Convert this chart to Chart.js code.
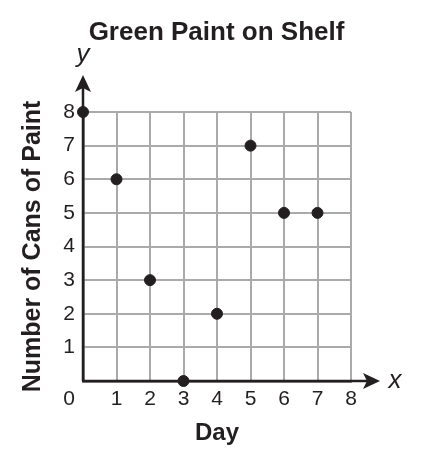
<!DOCTYPE html>
<html>
<head>
<meta charset="utf-8">
<script src="https://cdn.jsdelivr.net/npm/chart.js@4"></script>
<style>
  html, body { margin: 0; padding: 0; background: #fff; }
  #wrap { width: 425px; height: 466px; }
</style>
</head>
<body>
<div id="wrap"><canvas id="c" width="425" height="466"></canvas></div>
<script>
const chartTitle = 'Green Paint on Shelf';
const xTitle = 'Day';
const yTitle = 'Number of Cans of Paint';
const days = [0, 1, 2, 3, 4, 5, 6, 7];
const cans = [8, 6, 3, 0, 2, 7, 5, 5];
const xTickLabels = ['1', '2', '3', '4', '5', '6', '7', '8'];
const yTickLabels = ['1', '2', '3', '4', '5', '6', '7', '8'];
const originLabel = '0';

const INK = '#231f20';
const GRID = '#aaaaaa';
const FONT = "'Liberation Sans', Arial, sans-serif";

function arrowHead(ctx, tipX, tipY, dir) {
  const len = 17, half = 8, notch = 4;
  ctx.beginPath();
  if (dir === 'up') {
    ctx.moveTo(tipX, tipY);
    ctx.lineTo(tipX + half, tipY + len);
    ctx.lineTo(tipX, tipY + len - notch);
    ctx.lineTo(tipX - half, tipY + len);
  } else {
    ctx.moveTo(tipX, tipY);
    ctx.lineTo(tipX - len, tipY - half);
    ctx.lineTo(tipX - len + notch, tipY);
    ctx.lineTo(tipX - len, tipY + half);
  }
  ctx.closePath();
  ctx.fill();
}

const decor = {
  id: 'decor',
  beforeDatasetsDraw(chart) {
    const ctx = chart.ctx;
    const xs = chart.scales.x, ys = chart.scales.y;
    const x0 = xs.getPixelForValue(0), y0 = ys.getPixelForValue(0);
    const xEnd = xs.getPixelForValue(8), yEnd = ys.getPixelForValue(8);
    ctx.save();
    ctx.strokeStyle = INK;
    ctx.fillStyle = INK;
    ctx.lineWidth = 2.5;
    ctx.beginPath();
    ctx.moveTo(x0, y0);
    ctx.lineTo(x0, yEnd - 28);
    ctx.moveTo(x0, y0);
    ctx.lineTo(xEnd + 20, y0);
    ctx.stroke();
    arrowHead(ctx, x0, yEnd - 37, 'up');
    arrowHead(ctx, xEnd + 29, y0, 'right');
    ctx.font = "italic 26px " + FONT;
    ctx.textAlign = 'center';
    ctx.textBaseline = 'alphabetic';
    ctx.fillText('y', x0, yEnd - 50);
    ctx.fillText('x', xEnd + 44, y0 + 7);
    ctx.font = "21px " + FONT;
    ctx.textBaseline = 'middle';
    ctx.fillText(originLabel, x0 - 14, y0 + 18);
    ctx.restore();
  }
};

new Chart(document.getElementById('c'), {
  type: 'scatter',
  data: {
    datasets: [{
      data: days.map((d, i) => ({ x: d, y: cans[i] })),
      backgroundColor: INK,
      borderColor: INK,
      pointRadius: 5.5,
      pointHoverRadius: 5.5,
      clip: false
    }]
  },
  plugins: [decor],
  options: {
    responsive: false,
    animation: false,
    devicePixelRatio: 1,
    layout: { padding: { left: 8, right: 0, top: 0, bottom: 0 } },
    plugins: {
      legend: { display: false },
      tooltip: { enabled: false },
      title: {
        display: true,
        text: chartTitle,
        color: INK,
        font: { family: FONT, size: 26, weight: 'bold' },
        padding: { top: 17, bottom: 63.8 }
      }
    },
    scales: {
      x: {
        type: 'linear',
        min: 0, max: 8,
        afterFit: s => { s.height = 85; },
        grid: { color: GRID, lineWidth: 2, drawTicks: false },
        border: { display: true, color: INK, width: 2.5, z: 2 },
        ticks: {
          stepSize: 1,
          padding: 6,
          color: INK,
          font: { family: FONT, size: 21 },
          callback: (v) => v === 0 ? '' : xTickLabels[v - 1]
        },
        title: {
          display: true,
          text: xTitle,
          color: INK,
          font: { family: FONT, size: 24, weight: 'bold' },
          padding: { top: 0, bottom: 18 }
        }
      },
      y: {
        type: 'linear',
        min: 0, max: 8,
        afterFit: s => { s.width = 75; },
        grid: { color: GRID, lineWidth: 2, drawTicks: false },
        border: { display: true, color: INK, width: 2.5, z: 2 },
        ticks: {
          stepSize: 1,
          padding: 8,
          color: INK,
          font: { family: FONT, size: 21 },
          callback: (v) => v === 0 ? '' : yTickLabels[v - 1]
        },
        title: {
          display: true,
          text: yTitle,
          color: INK,
          font: { family: FONT, size: 25, weight: 'bold' },
          padding: { top: 10, bottom: 0 }
        }
      },
      spacer: {
        type: 'linear',
        position: 'right',
        min: 0, max: 8,
        afterFit: s => { s.width = 74; },
        grid: { display: false, drawTicks: false },
        border: { display: false },
        ticks: { display: false }
      }
    }
  }
});
</script>
</body>
</html>
